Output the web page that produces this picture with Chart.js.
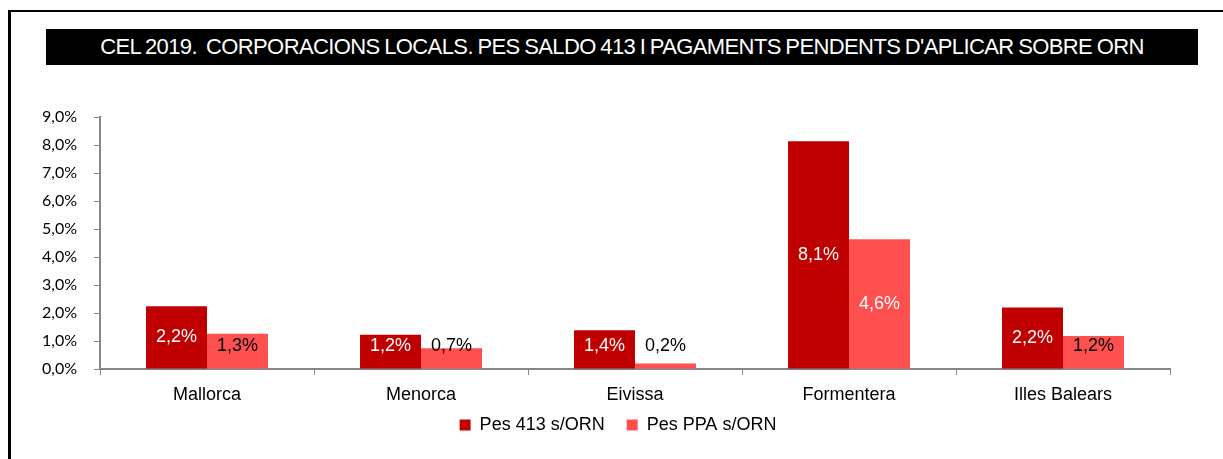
<!DOCTYPE html>
<html>
<head>
<meta charset="utf-8">
<script src="https://cdn.jsdelivr.net/npm/chart.js@4"></script>
<style>
  body { margin: 0; background: #fff; }
  #marc { position: absolute; left: 8px; top: 10px; width: 1230px; height: 460px;
          border-left: 3px solid #000; border-top: 2px solid #000; }
  #titol { position: absolute; left: 46px; top: 29px; width: 1152px; height: 36px;
           background: #000; color: #fff; font: 22px "Liberation Sans", Arial, sans-serif;
           line-height: 36px; text-align: center; letter-spacing: -0.6px; word-spacing: -1px;
           white-space: nowrap; }
  #grafic { position: absolute; left: 0; top: 0; }
</style>
</head>
<body>
<div id="marc"></div>
<canvas id="grafic" width="1223" height="459"></canvas>
<div id="titol">CEL 2019.&nbsp; CORPORACIONS LOCALS. PES SALDO 413 I PAGAMENTS PENDENTS D'APLICAR SOBRE ORN</div>
<script>
var illes = ["Mallorca", "Menorca", "Eivissa", "Formentera", "Illes Balears"];
var pes413 = [2.24, 1.22, 1.38, 8.13, 2.2];
var pesPPA = [1.26, 0.74, 0.2, 4.63, 1.18];
var etiquetes413 = ["2,2%", "1,2%", "1,4%", "8,1%", "2,2%"];
var etiquetesPPA = ["1,3%", "0,7%", "0,2%", "4,6%", "1,2%"];

var font = "'Liberation Sans', Arial, sans-serif";

// etiquetes de dades dins les barres
var etiquetesPlugin = {
    id: "etiquetes",
    afterLayout: function (chart) {
        // llegenda una mica desplaçada, com a l'original
        chart.legend.left += 13;
        chart.legend.right += 13;
        chart.legend.top -= 9;
        chart.legend.bottom -= 9;
    },
    afterDatasetsDraw: function (chart) {
        var ctx = chart.ctx;
        var textos = [etiquetes413, etiquetesPPA];
        ctx.save();
        ctx.font = "18px " + font;
        ctx.textAlign = "center";
        ctx.textBaseline = "middle";
        chart.data.datasets.forEach(function (ds, d) {
            var meta = chart.getDatasetMeta(d);
            meta.data.forEach(function (bar, i) {
                var alt = bar.base - bar.y;
                var y = Math.min((bar.y + bar.base) / 2, bar.base - 22);
                var color = "#fff";
                if (d == 1 && alt < 100) color = "#000";
                ctx.fillStyle = color;
                ctx.fillText(textos[d][i], bar.x, y);
            });
        });
        ctx.restore();
    }
};

var grafic = new Chart(document.getElementById("grafic"), {
    type: "bar",
    data: {
        labels: illes,
        datasets: [
            { label: "Pes 413 s/ORN", data: pes413, backgroundColor: "#C00000" },
            { label: "Pes PPA s/ORN", data: pesPPA, backgroundColor: "#FF5050" }
        ]
    },
    options: {
        responsive: false,
        animation: false,
        layout: { padding: { left: 40, right: 53, top: 117, bottom: 6 } },
        datasets: { bar: { categoryPercentage: 0.57, barPercentage: 1.0 } },
        scales: {
            x: {
                afterFit: function (scale) { scale.height = 34; },
                grid: { drawOnChartArea: false, color: "#868686", tickLength: 6, offset: true },
                border: { color: "#868686", width: 2 },
                ticks: { color: "#000", font: { family: font, size: 18 }, padding: 9 }
            },
            y: {
                min: 0, max: 9,
                afterFit: function (scale) { scale.width = 60; },
                grid: { drawOnChartArea: false, color: "#868686", tickLength: 6 },
                border: { color: "#868686", width: 2 },
                ticks: {
                    stepSize: 1, color: "#000", padding: 17,
                    font: { family: "Lato, sans-serif", size: 16 },
                    callback: function (v) { return v.toFixed(1).replace(".", ",") + "%"; }
                }
            }
        },
        plugins: {
            title: { display: false },
            tooltip: { enabled: false },
            legend: {
                position: "bottom",
                labels: { boxWidth: 11, boxHeight: 11, padding: 22, color: "#000",
                          font: { family: font, size: 18 } }
            }
        }
    },
    plugins: [etiquetesPlugin]
});
</script>
</body>
</html>
